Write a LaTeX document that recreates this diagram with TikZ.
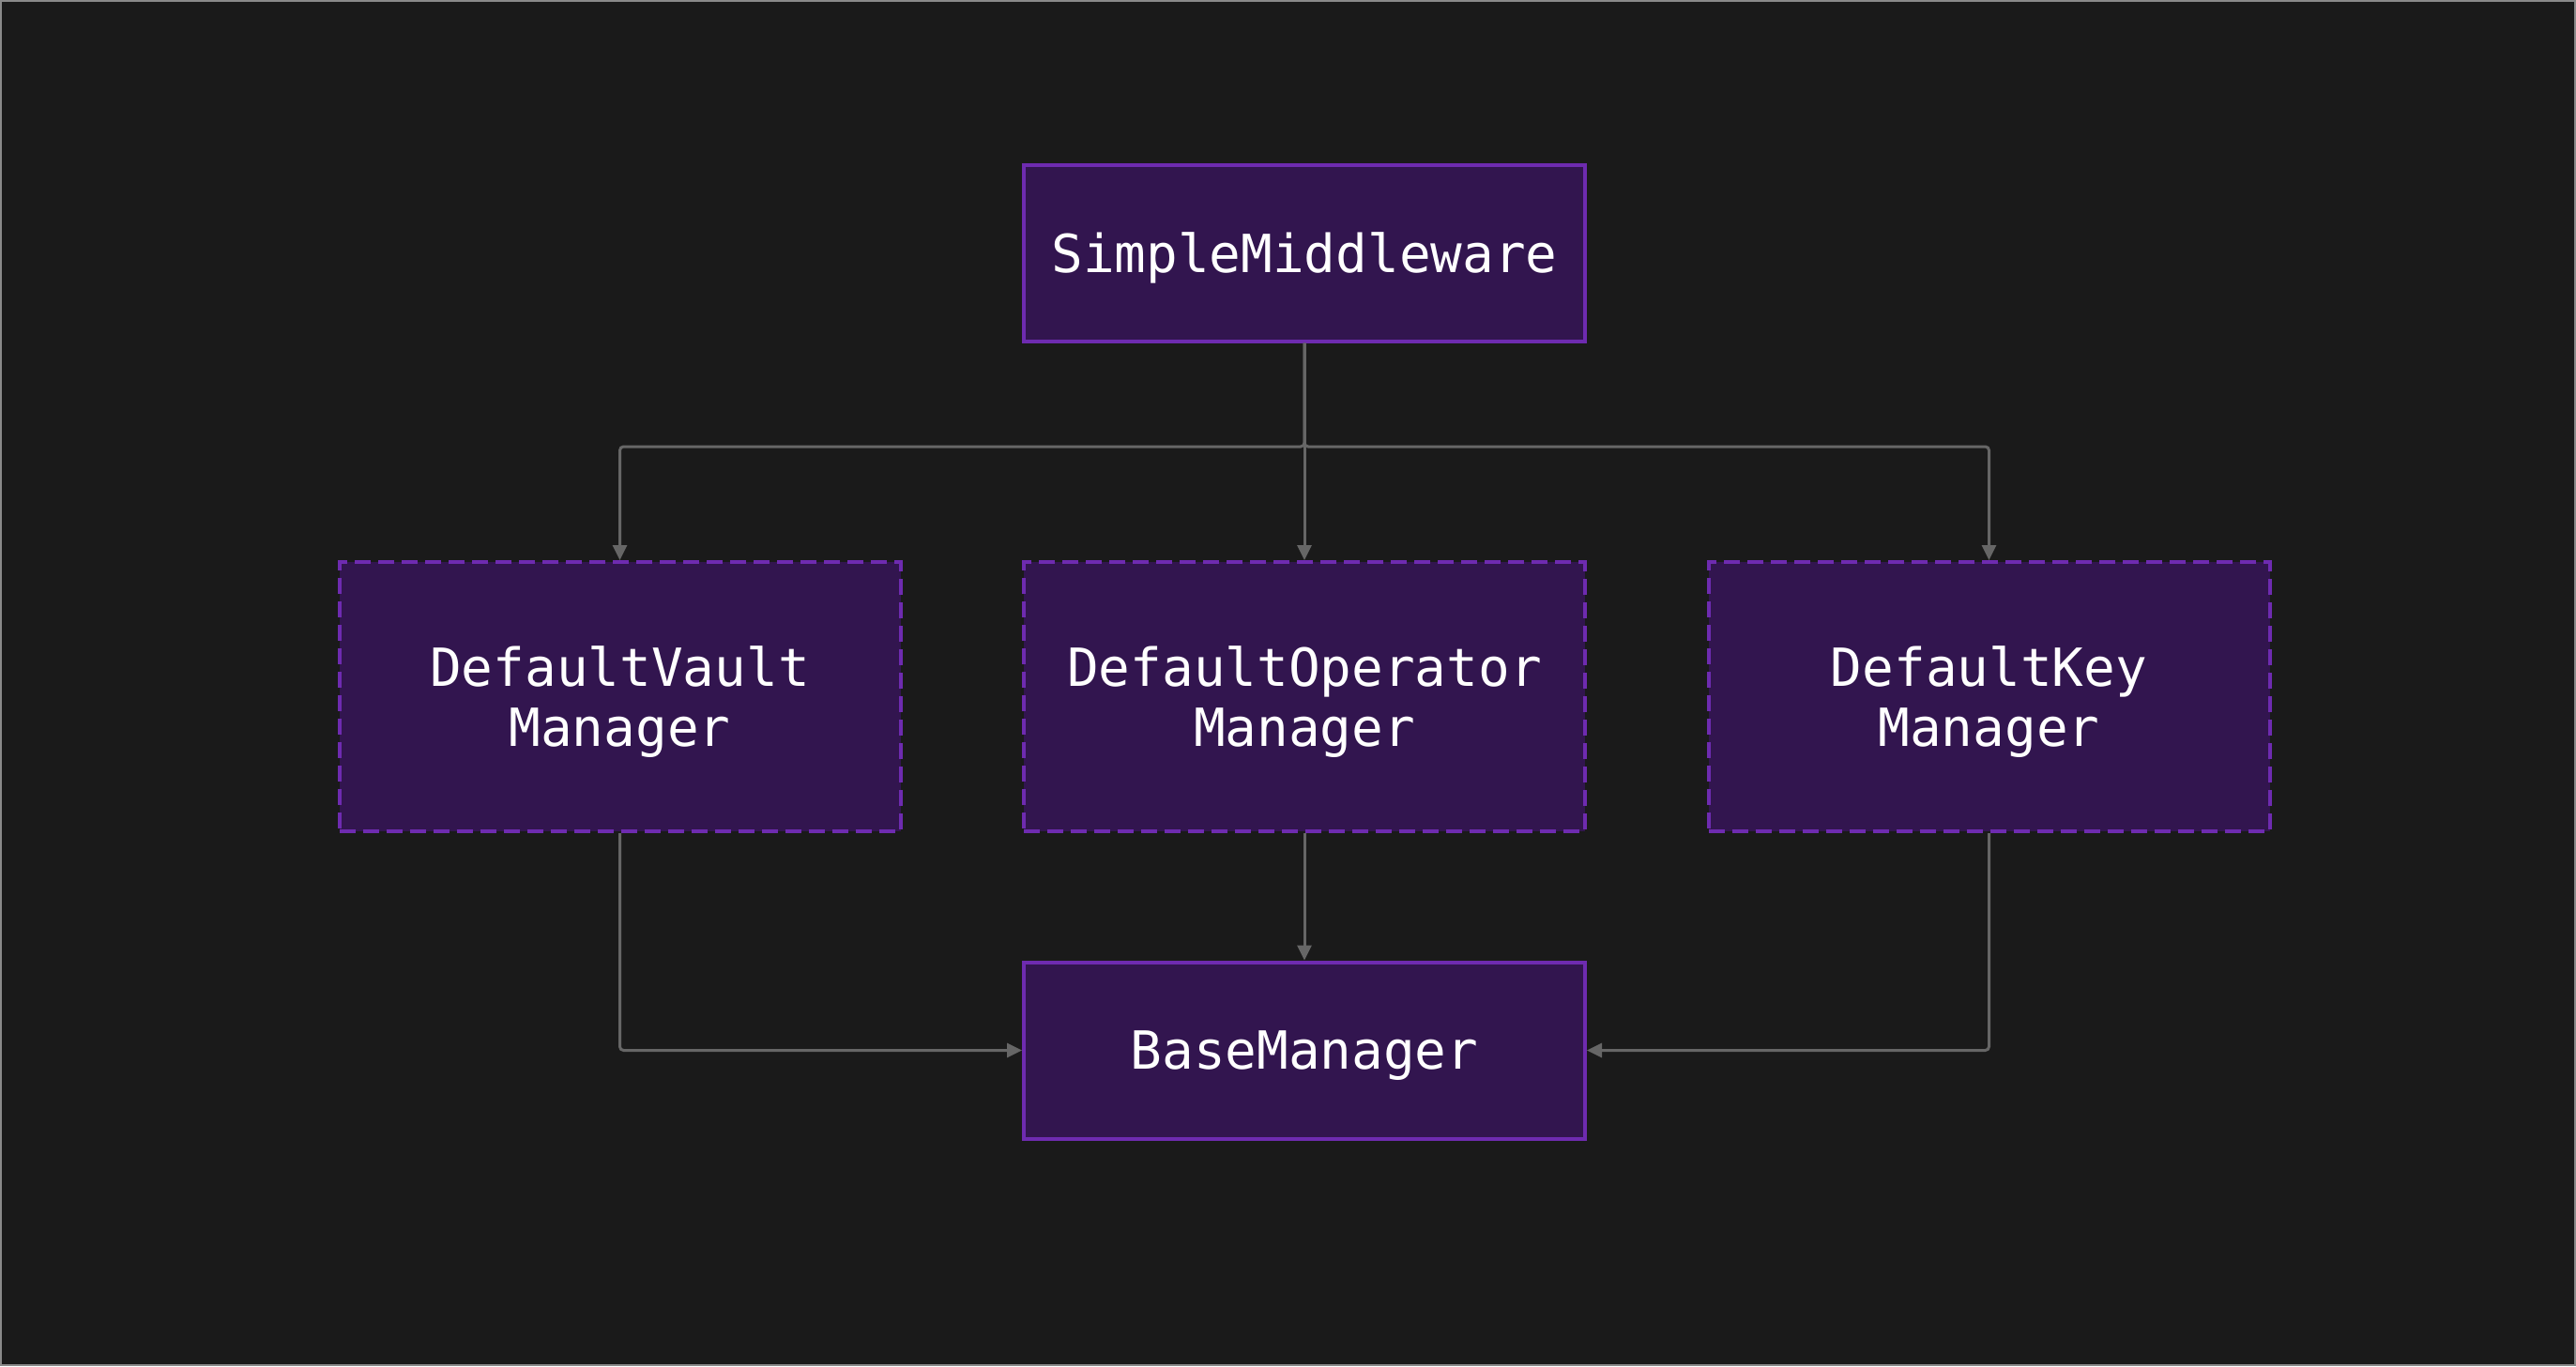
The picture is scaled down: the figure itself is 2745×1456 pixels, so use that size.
\documentclass[tikz,border=0pt]{standalone}
\usepackage{fontspec}
\setmonofont{DejaVu Sans Mono}
\usetikzlibrary{arrows.meta}
\definecolor{bg}{HTML}{1A1A1A}
\definecolor{boxfill}{HTML}{32154F}
\definecolor{boxline}{HTML}{6E2BB0}
\definecolor{edge}{HTML}{666666}
\definecolor{frame}{HTML}{8A8A8A}
\begin{document}
\begin{tikzpicture}[x=1pt,y=-1pt,
  box/.style={draw=boxline, fill=boxfill, line width=4pt, minimum width=598pt,
    inner sep=0pt, text=white, align=center, text depth=0pt,
    font=\ttfamily\fontsize{56}{64}\selectfont},
  solidbox/.style={box, minimum height=188pt},
  dashbox/.style={box, minimum height=287pt, dash pattern=on 17pt off 8pt},
  arr/.style={draw=edge, line width=3pt, rounded corners=4pt,
    -{Triangle[length=16pt,width=15pt,fill=edge]}}]
\useasboundingbox (0,0) rectangle (2745,1456);
\fill[bg] (0,0) rectangle (2745,1456);
\draw[frame, line width=2pt] (1,1) rectangle (2744,1455);

\node[solidbox] (sm) at (1390,269.5) {SimpleMiddleware};
\node[dashbox] (v) at (660.5,742.5) {DefaultVault\\Manager};
\node[dashbox] (o) at (1390,742.5) {DefaultOperator\\Manager};
\node[dashbox] (k) at (2119.5,742.5) {DefaultKey\\Manager};
\node[solidbox] (b) at (1390,1119.5) {BaseManager};

\coordinate (j) at (1390,476);
\draw[arr] (sm.south) -- (j) -| (v.north);
\draw[arr] (sm.south) -- (o.north);
\draw[arr] (sm.south) -- (j) -| (k.north);
\draw[arr] (v.south) |- (b.west);
\draw[arr] (o.south) -- (b.north);
\draw[arr] (k.south) |- (b.east);
\end{tikzpicture}
\end{document}
